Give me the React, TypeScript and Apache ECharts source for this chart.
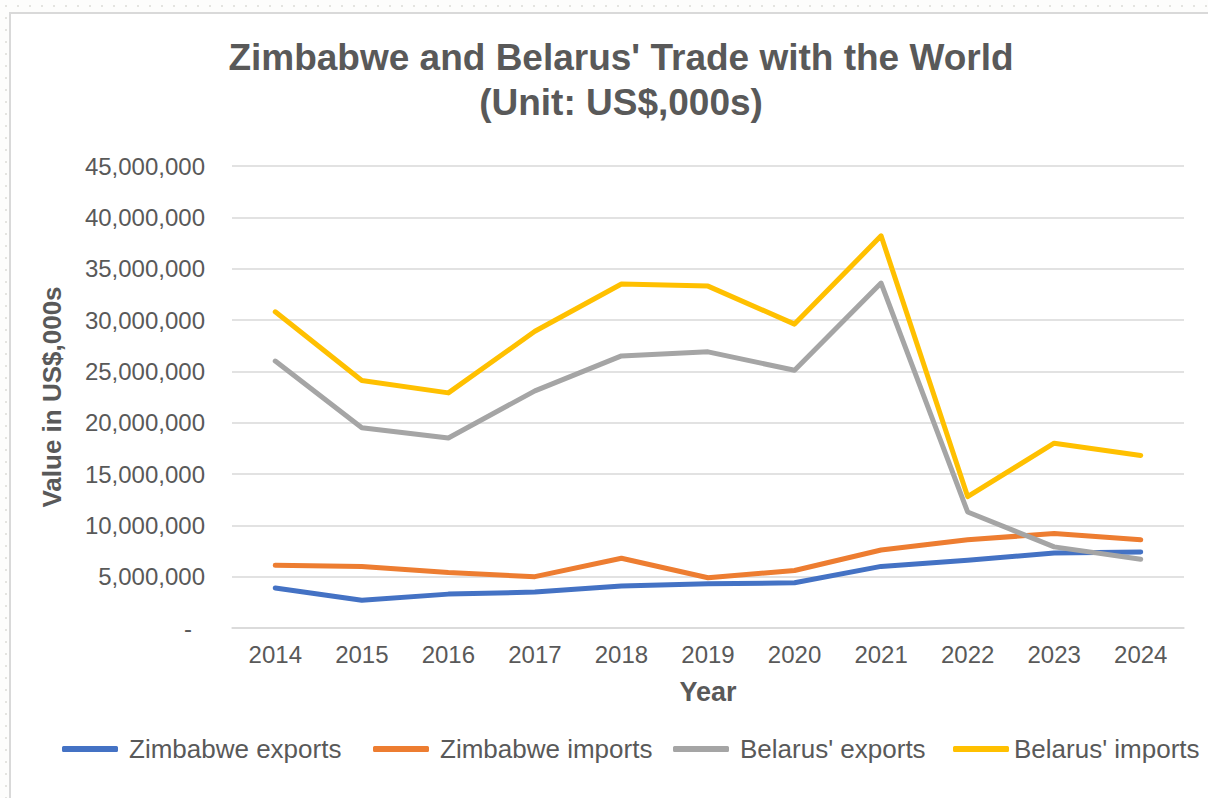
import React, { useEffect, useRef } from "react";
import * as echarts from "echarts";

const years = ["2014", "2015", "2016", "2017", "2018", "2019", "2020", "2021", "2022", "2023", "2024"];
const zimbabweExports = [3900000, 2700000, 3300000, 3500000, 4100000, 4300000, 4400000, 6000000, 6600000, 7300000, 7400000];
const zimbabweImports = [6100000, 6000000, 5400000, 5000000, 6800000, 4900000, 5600000, 7600000, 8600000, 9200000, 8600000];
const belarusExports = [26000000, 19500000, 18500000, 23100000, 26500000, 26900000, 25100000, 33600000, 11300000, 7900000, 6700000];
const belarusImports = [30800000, 24100000, 22900000, 28900000, 33500000, 33300000, 29600000, 38200000, 12800000, 18000000, 16800000];

const seriesNames = ["Zimbabwe exports", "Zimbabwe imports", "Belarus' exports", "Belarus' imports"];
const seriesColors = ["#4472C4", "#ED7D31", "#A5A5A5", "#FFC000"];
const seriesData = [zimbabweExports, zimbabweImports, belarusExports, belarusImports];
const legendLefts = [57, 368, 668, 948];
const legendTextGaps = [6, 6, 6, 0];

const FONT = "'Liberation Sans', Arial, sans-serif";
const TEXT = "#595959";

export default function App() {
  const ref = useRef<HTMLDivElement>(null);
  useEffect(() => {
    if (!ref.current) return;
    const chart = echarts.init(ref.current, undefined, { renderer: "svg" });
    chart.setOption({
      animation: false,
      textStyle: { fontFamily: FONT },
      title: {
        text: "Zimbabwe and Belarus' Trade with the World\n(Unit: US$,000s)",
        left: 616,
        textAlign: "center",
        top: 30,
        textStyle: { fontFamily: FONT, fontSize: 37, fontWeight: "bold", color: TEXT, lineHeight: 45 },
      },
      grid: { left: 232, right: 24, top: 166, bottom: 170, containLabel: false },
      legend: seriesNames.map((name, i) => ({
        data: [name],
        left: legendLefts[i],
        top: 731,
        icon: "roundRect",
        itemWidth: 56,
        itemHeight: 6,
        textStyle: { fontFamily: FONT, fontSize: 26, color: TEXT, padding: [0, 0, 0, legendTextGaps[i]] },
      })),
      xAxis: {
        type: "category",
        data: years,
        boundaryGap: true,
        name: "Year",
        nameLocation: "middle",
        nameGap: 50,
        nameTextStyle: { fontFamily: FONT, fontSize: 27, fontWeight: "bold", color: TEXT },
        axisLine: { lineStyle: { color: "#D9D9D9", width: 1.5 } },
        axisTick: { show: false },
        axisLabel: { fontFamily: FONT, fontSize: 24, color: TEXT, margin: 14 },
      },
      yAxis: {
        type: "value",
        min: 0,
        max: 45000000,
        interval: 5000000,
        name: "Value in US$,000s",
        nameLocation: "middle",
        nameGap: 167,
        nameTextStyle: { fontFamily: FONT, fontSize: 26, fontWeight: "bold", color: TEXT },
        axisLine: { show: false },
        axisTick: { show: false },
        splitLine: { lineStyle: { color: "#D9D9D9", width: 1.5 } },
        axisLabel: {
          fontFamily: FONT,
          fontSize: 24,
          color: TEXT,
          margin: 27,
          formatter: (v: number) => (v === 0 ? "{d|-}" : v.toLocaleString("en-US")),
          rich: { d: { fontFamily: FONT, fontSize: 24, color: TEXT, padding: [0, 13, 0, 0] } },
        },
      },
      series: seriesNames.map((name, i) => ({
        name,
        type: "line",
        data: seriesData[i],
        symbol: "none",
        color: seriesColors[i],
        lineStyle: { width: 5, color: seriesColors[i], cap: "round", join: "round" },
      })),
    });
    return () => chart.dispose();
  }, []);

  return (
    <div
      style={{
        position: "absolute",
        left: 0,
        top: 0,
        width: 1208,
        height: 798,
        overflow: "hidden",
        backgroundColor: "#FDFDFC",
        backgroundImage: "radial-gradient(#E4E4E0 1px, transparent 1.2px)",
        backgroundSize: "12px 12px",
      }}
    >
      <div
        style={{
          position: "absolute",
          left: 9,
          top: 12,
          width: 1220,
          height: 800,
          background: "#FFFFFF",
          border: "2px solid #D9D9D9",
        }}
      />
      <div ref={ref} style={{ position: "absolute", left: 0, top: 0, width: 1208, height: 798 }} />
    </div>
  );
}
